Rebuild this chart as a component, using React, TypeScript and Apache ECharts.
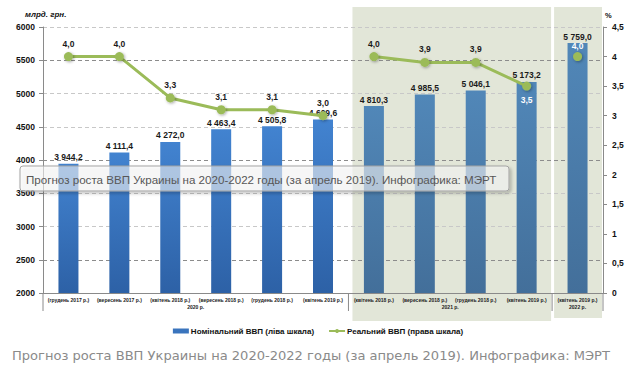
import React, { useEffect, useRef } from "react";
import * as echarts from "echarts";

const categories = [
  "(грудень 2017 р.)",
  "(вересень 2017 р.)",
  "(квітень 2018 р.)",
  "(вересень 2018 р.)",
  "(грудень 2018 р.)",
  "(квітень 2019 р.)",
  "(квітень 2018 р.)",
  "(вересень 2018 р.)",
  "(грудень 2018 р.)",
  "(квітень 2019 р.)",
  "(квітень 2019 р.)",
];
const yearGroups = ["2020 р.", "2021 р.", "2022 р."];
const groupSizes = [6, 4, 1];
const nominalGDP = [3944.2, 4111.4, 4272.0, 4463.4, 4505.8, 4609.6, 4810.3, 4985.5, 5046.1, 5173.2, 5759.0];
const realGDP = [4.0, 4.0, 3.3, 3.1, 3.1, 3.0, 4.0, 3.9, 3.9, 3.5, 4.0];
const leftAxisRange = [2000, 6000, 500];
const rightAxisRange = [0, 4.5, 0.5];
const seriesNames = ["Номінальний ВВП (ліва шкала)", "Реальний ВВП (права шкала)"];
const leftUnit = "млрд. грн.";
const rightUnit = "%";
const caption = "Прогноз роста ВВП Украины на 2020-2022 годы (за апрель 2019). Инфографика: МЭРТ";

const groupOf = (i: number) => {
  let acc = 0;
  for (let g = 0; g < groupSizes.length; g++) {
    acc += groupSizes[g];
    if (i < acc) return g;
  }
  return groupSizes.length - 1;
};

const fmt = (v: number, d: number) => {
  const s = v.toFixed(d);
  const [ip, dp] = s.split(".");
  const withSpace = ip.replace(/\B(?=(\d{3})+(?!\d))/g, " ");
  return dp !== undefined ? withSpace + "," + dp : withSpace;
};

const FONT = "'Liberation Sans', Arial, sans-serif";

export default function App() {
  const ref = useRef<HTMLDivElement>(null);

  useEffect(() => {
    if (!ref.current) return;
    const chart = echarts.init(ref.current, undefined, { renderer: "svg" });

    const grad2020 = new echarts.graphic.LinearGradient(0, 0, 0, 1, [
      { offset: 0, color: "#4283d0" },
      { offset: 1, color: "#2d61a6" },
    ]);
    const grad2021 = new echarts.graphic.LinearGradient(0, 0, 0, 1, [
      { offset: 0, color: "#5187b8" },
      { offset: 1, color: "#436f9a" },
    ]);

    const lineSeries = groupSizes.map((_, g) => ({
      type: "line",
      name: seriesNames[1],
      yAxisIndex: 1,
      z: 5,
      symbol: "circle",
      symbolSize: 9,
      lineStyle: { color: "#9bbb59", width: 3 },
      itemStyle: {
        color: "#9bbb59",
        shadowColor: "rgba(0,0,0,0.35)",
        shadowBlur: 3,
        shadowOffsetX: 1,
        shadowOffsetY: 1,
      },
      label: {
        show: true,
        position: "top",
        distance: 4,
        fontFamily: FONT,
        fontSize: 8.5,
        fontWeight: "bold",
        color: "#1a1a1a",
        formatter: (p: any) => fmt(p.value, 1),
      },
      data: realGDP.map((v, i) => {
        if (groupOf(i) !== g) return null;
        if (i === 9) return { value: v, label: { position: "bottom", color: "#ffffff", distance: 5 } };
        if (i === 10) return { value: v, label: { color: "#ffffff", distance: 2 } };
        return v;
      }),
    }));

    const option: any = {
      animation: false,
      backgroundColor: "#ffffff",
      grid: { left: 43, right: 33, top: 27, bottom: 84, containLabel: false },
      legend: {
        top: 322,
        left: "center",
        itemWidth: 16,
        itemHeight: 5,
        itemGap: 14,
        data: [
          { name: seriesNames[0], icon: "rect" },
          { name: seriesNames[1] },
        ],
        textStyle: { fontFamily: FONT, fontSize: 8, fontWeight: "bold", color: "#111", padding: [0, 0, 0, -3] },
      },
      xAxis: {
        type: "category",
        data: categories,
        axisLine: { lineStyle: { color: "#8a8a8a", width: 1 } },
        axisTick: { show: false },
        axisLabel: {
          interval: 0,
          fontFamily: FONT,
          fontSize: 5,
          fontWeight: "bold",
          color: "#222",
          margin: 4,
        },
      },
      yAxis: [
        {
          type: "value",
          min: leftAxisRange[0],
          max: leftAxisRange[1],
          interval: leftAxisRange[2],
          axisLine: { show: true, lineStyle: { color: "#8a8a8a" } },
          axisTick: { show: true, length: 4, lineStyle: { color: "#8a8a8a" } },
          axisLabel: {
            fontFamily: FONT,
            fontSize: 8.5,
            fontWeight: "bold",
            color: "#111",
            margin: 8,
            formatter: (v: number) => String(v),
          },
          splitLine: {
            show: true,
            lineStyle: { type: [4, 3], color: ["#c8c8c8", "#8c8c8c", "#c8c8c8"], width: 1 },
          },
        },
        {
          type: "value",
          min: rightAxisRange[0],
          max: rightAxisRange[1],
          interval: rightAxisRange[2],
          axisLine: { show: true, lineStyle: { color: "#8a8a8a" } },
          axisTick: { show: true, length: 4, lineStyle: { color: "#8a8a8a" } },
          axisLabel: {
            fontFamily: FONT,
            fontSize: 8.5,
            fontWeight: "bold",
            color: "#111",
            margin: 9,
            formatter: (v: number) => String(v).replace(".", ","),
          },
          splitLine: { show: false },
        },
      ],
      series: [
        {
          type: "bar",
          name: seriesNames[0],
          barWidth: 20,
          z: 3,
          itemStyle: { color: "#3a74bd" },
          label: {
            show: true,
            position: "top",
            distance: 2,
            fontFamily: FONT,
            fontSize: 8.5,
            fontWeight: "bold",
            color: "#1a1a1a",
            formatter: (p: any) => fmt(p.value, 1),
          },
          data: nominalGDP.map((v, i) => ({
            value: v,
            itemStyle: { color: groupOf(i) === 0 ? grad2020 : grad2021 },
          })),
        },
        ...lineSeries,
      ],
    };

    chart.setOption(option);

    // derive decoration positions from the axes
    const xc = (i: number) => chart.convertToPixel({ xAxisIndex: 0 }, i) as number;
    const band = xc(1) - xc(0);
    const bound = (i: number) => xc(0) - band / 2 + i * band;
    const yBottom = chart.convertToPixel({ yAxisIndex: 0 }, leftAxisRange[0]) as number;
    const yTop = chart.convertToPixel({ yAxisIndex: 0 }, leftAxisRange[1]) as number;

    const starts: number[] = [];
    let acc = 0;
    groupSizes.forEach((s) => {
      starts.push(acc);
      acc += s;
    });

    const graphics: any[] = [];
    // shaded forecast panels for 2021 and 2022
    graphics.push({
      type: "rect",
      z: -10,
      silent: true,
      shape: { x: bound(starts[1]) + 4, y: yTop - 20, width: bound(starts[2]) - bound(starts[1]) - 5, height: yBottom - yTop + 48 },
      style: { fill: "#e2e6d8" },
    });
    graphics.push({
      type: "rect",
      z: -10,
      silent: true,
      shape: { x: bound(starts[2]) + 2, y: yTop - 20, width: bound(acc) - bound(starts[2]) - 3, height: yBottom - yTop + 45 },
      style: { fill: "#e2e6d8" },
    });
    // group separators on category axis
    [0, starts[1], starts[2], acc].forEach((b) => {
      graphics.push({
        type: "line",
        silent: true,
        shape: { x1: bound(b), y1: yBottom, x2: bound(b), y2: yBottom + 18 },
        style: { stroke: "#8a8a8a", lineWidth: 1 },
      });
    });
    // group labels
    yearGroups.forEach((t, g) => {
      const cx = (bound(starts[g]) + bound(starts[g] + groupSizes[g])) / 2;
      graphics.push({
        type: "text",
        silent: true,
        x: cx,
        y: yBottom + 14,
        style: { text: t, fontFamily: FONT, fontSize: 5, fontWeight: "bold", fill: "#222", align: "center", verticalAlign: "middle" },
      });
    });
    // axis units
    graphics.push({
      type: "text",
      silent: true,
      x: 25,
      y: 14,
      style: { text: leftUnit, fontFamily: FONT, fontSize: 8, fontWeight: "bold", fontStyle: "italic", fill: "#111", verticalAlign: "middle" },
    });
    graphics.push({
      type: "text",
      silent: true,
      x: 605,
      y: 15,
      style: { text: rightUnit, fontFamily: FONT, fontSize: 7.5, fontWeight: "bold", fill: "#111", verticalAlign: "middle" },
    });
    // tooltip-like overlay box
    graphics.push({
      type: "group",
      x: 20,
      y: 166,
      z: 100,
      silent: true,
      children: [
        {
          type: "rect",
          z: 100,
          shape: { x: 0, y: 0, width: 489, height: 25, r: 3 },
          style: {
            fill: "rgba(255,255,255,0.55)",
            stroke: "#a3a3a3",
            lineWidth: 1,
            shadowColor: "rgba(0,0,0,0.3)",
            shadowBlur: 3,
            shadowOffsetX: 2,
            shadowOffsetY: 2,
          },
        },
        {
          type: "text",
          z: 101,
          x: 6,
          y: 13,
          style: { text: caption, fontFamily: "'Liberation Sans', Arial, sans-serif", fontSize: 11.6, fill: "#575757", verticalAlign: "middle" },
        },
      ],
    });
    // caption
    graphics.push({
      type: "text",
      silent: true,
      x: 12,
      y: 355,
      style: { text: caption, fontFamily: "'DejaVu Sans', Verdana, sans-serif", fontSize: 13.05, fill: "#8a8a8a", verticalAlign: "middle" },
    });

    chart.setOption({ graphic: graphics });

    return () => chart.dispose();
  }, []);

  return (
    <div
      ref={ref}
      style={{ position: "fixed", left: 0, top: 0, width: 636, height: 377, background: "#fff" }}
    />
  );
}
